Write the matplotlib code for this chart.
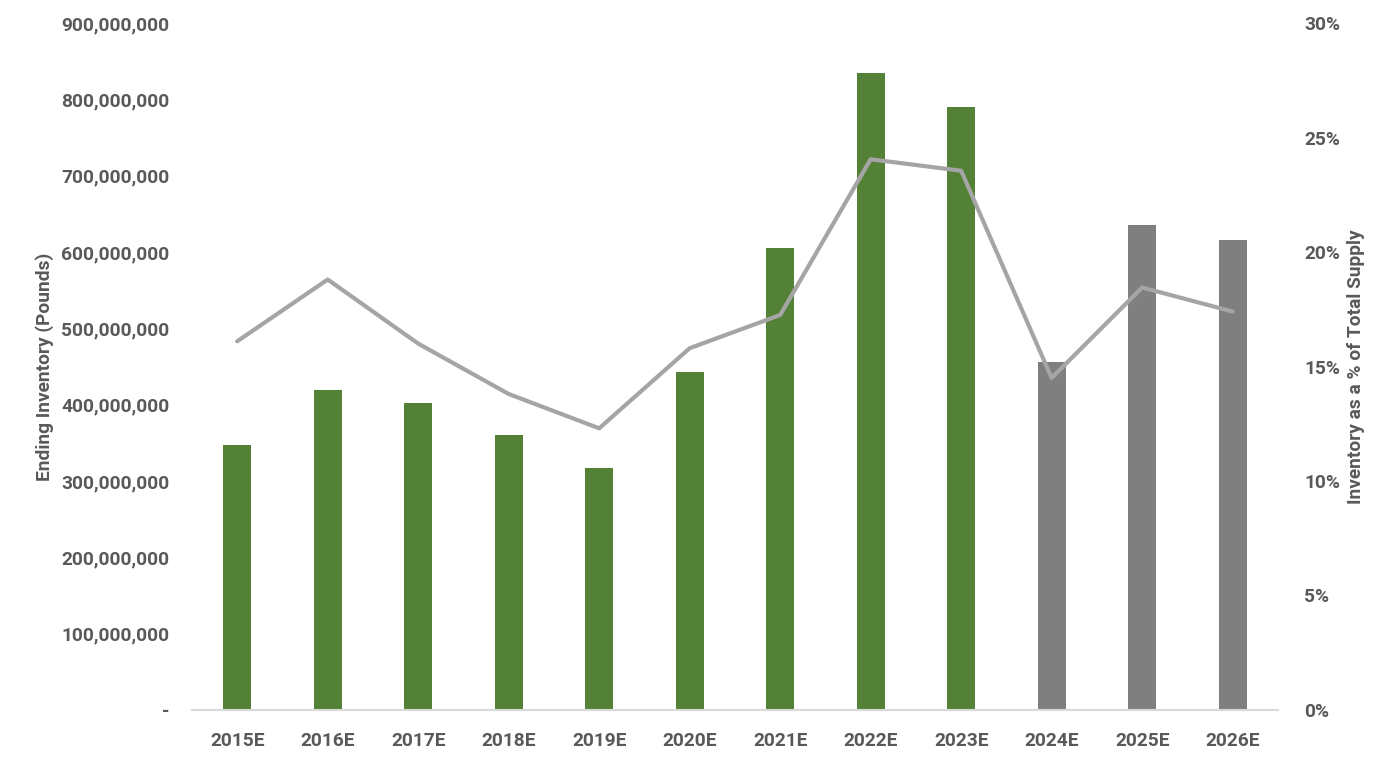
import matplotlib
matplotlib.use("Agg")
import matplotlib.pyplot as plt
from matplotlib.ticker import FuncFormatter, MultipleLocator

plt.rcParams['font.family'] = ['Roboto', 'DejaVu Sans']

years = ["2015E", "2016E", "2017E", "2018E", "2019E", "2020E",
         "2021E", "2022E", "2023E", "2024E", "2025E", "2026E"]
inventory = [347e6, 419e6, 402e6, 360e6, 317e6, 443e6,
             605e6, 835e6, 790e6, 456e6, 635e6, 616e6]
pct_supply = [16.1, 18.8, 16.0, 13.8, 12.3, 15.8,
              17.25, 24.05, 23.55, 14.5, 18.45, 17.4]
bar_colors = ["#538135"] * 9 + ["#7f7f7f"] * 3

text_color = "#595959"
fs = 13.8

fig = plt.figure(figsize=(13.89, 7.6), dpi=100)
ax = fig.add_axes([0.1382, 0.0658, 0.7818, 0.9039])
x = list(range(len(years)))
ax.bar(x, inventory, width=0.31, color=bar_colors, zorder=2)
ax.set_xlim(-0.5, len(years) - 0.5)
ax.set_ylim(0, 900e6)
ax.yaxis.set_major_locator(MultipleLocator(100e6))
ax.yaxis.set_major_formatter(FuncFormatter(lambda v, p: "-" if v == 0 else f"{v:,.0f}"))
ax.set_xticks(x)
ax.set_xticklabels(years)

ax2 = ax.twinx()
ax2.plot(x, pct_supply, color="#a5a5a5", linewidth=3, zorder=3, solid_capstyle='round')
ax2.set_ylim(0, 30)
ax2.yaxis.set_major_locator(MultipleLocator(5))
ax2.yaxis.set_major_formatter(FuncFormatter(lambda v, p: f"{v:.0f}%"))

for a in (ax, ax2):
    for s in ("top", "left", "right", "bottom"):
        a.spines[s].set_visible(False)
ax.spines["bottom"].set_visible(True)
ax.spines["bottom"].set_color("#d9d9d9")
ax.spines["bottom"].set_linewidth(1.5)

ax.tick_params(axis='y', length=0, pad=16, labelsize=fs, labelcolor=text_color)
ax.tick_params(axis='x', length=0, pad=16, labelsize=fs, labelcolor=text_color)
ax2.tick_params(axis='y', length=0, pad=19, labelsize=fs, labelcolor=text_color)
for lab in ax.get_yticklabels() + ax.get_xticklabels() + ax2.get_yticklabels():
    lab.set_fontweight('bold')

ax.set_ylabel("Ending Inventory (Pounds)", fontsize=fs, fontweight='bold', color=text_color)
ax.yaxis.set_label_coords(-0.127, 0.5)
ax2.set_ylabel("Inventory as a % of Total Supply", fontsize=fs, fontweight='bold', color=text_color)
ax2.yaxis.set_label_coords(1.064, 0.5)

fig.savefig("out.png", dpi=100)
